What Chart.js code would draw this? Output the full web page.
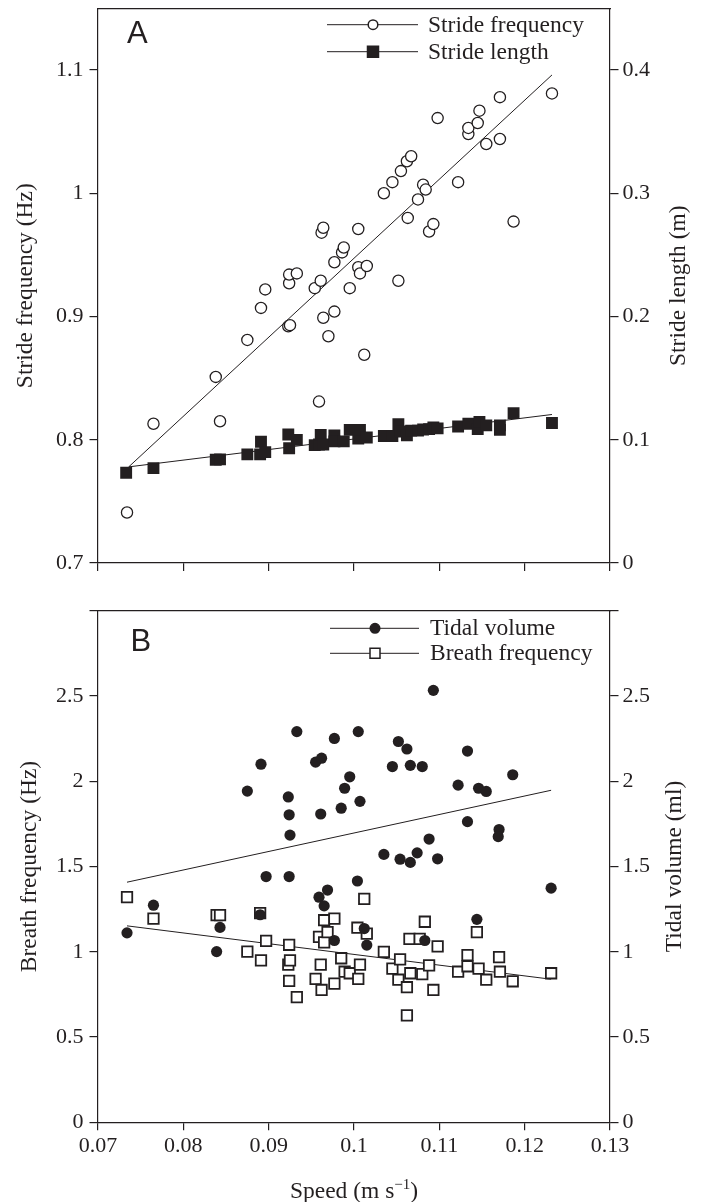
<!DOCTYPE html>
<html>
<head>
<meta charset="utf-8">
<script src="https://cdn.jsdelivr.net/npm/chart.js@4.4.1/dist/chart.umd.min.js"></script>
<style>
  body { margin: 0; background: #fff; }
  #wrapA { position: absolute; left: 0; top: 0; width: 704px; height: 600px; }
  #wrapB { position: absolute; left: 0; top: 600px; width: 704px; height: 602px; }
</style>
</head>
<body>
<div id="wrapA"><canvas id="chartA" width="704" height="600"></canvas></div>
<div id="wrapB"><canvas id="chartB" width="704" height="602"></canvas></div>
<script>
// ---- panel A: stride ----
const speedFreq = [0.0734, 0.0765, 0.0838, 0.0843, 0.0875, 0.0891, 0.0896, 0.0923, 0.0925, 0.0924,
  0.0924, 0.0933, 0.0954, 0.0959, 0.0961, 0.0962, 0.0964, 0.0964, 0.0970, 0.0977,
  0.0977, 0.0986, 0.0988, 0.0995, 0.1005, 0.1005, 0.1007, 0.1012, 0.1015, 0.1035,
  0.1045, 0.1052, 0.1055, 0.1062, 0.1067, 0.1063, 0.1075, 0.1081, 0.1084, 0.1088,
  0.1093, 0.1098, 0.1122, 0.1134, 0.1134, 0.1145, 0.1147, 0.1155, 0.1171, 0.1171,
  0.1187, 0.1232];
const strideFreq = [0.741, 0.813, 0.851, 0.815, 0.881, 0.907, 0.922, 0.892, 0.893, 0.927,
  0.934, 0.935, 0.923, 0.831, 0.929, 0.968, 0.972, 0.899, 0.884, 0.904,
  0.944, 0.952, 0.956, 0.923, 0.971, 0.940, 0.935, 0.869, 0.941, 1.000,
  1.009, 0.929, 1.018, 1.026, 1.030, 0.980, 0.995, 1.007, 1.003, 0.969,
  0.975, 1.061, 1.009, 1.048, 1.053, 1.057, 1.067, 1.040, 1.044, 1.078,
  0.977, 1.081];
const speedLen = [0.0733, 0.0765, 0.0838, 0.0843, 0.0875, 0.0891, 0.0890, 0.0896, 0.0923, 0.0924,
  0.0933, 0.0954, 0.0959, 0.0961, 0.0964, 0.0977, 0.0977, 0.0988, 0.0995, 0.1005,
  0.1007, 0.1015, 0.1035, 0.1045, 0.1052, 0.1055, 0.1062, 0.1067, 0.1075, 0.1081,
  0.1088, 0.1093, 0.1098, 0.1122, 0.1134, 0.1145, 0.1147, 0.1155, 0.1171, 0.1171,
  0.1187, 0.1232];
const strideLen = [0.0732, 0.0770, 0.0838, 0.0841, 0.0881, 0.0984, 0.0881, 0.0900, 0.1043, 0.0931,
  0.0999, 0.0956, 0.0962, 0.1040, 0.0962, 0.1036, 0.0987, 0.0987, 0.1080, 0.1009,
  0.1080, 0.1018, 0.1030, 0.1030, 0.1126, 0.1067, 0.1036, 0.1074, 0.1074, 0.1083,
  0.1086, 0.1099, 0.1092, 0.1108, 0.1130, 0.1086, 0.1145, 0.1117, 0.1117, 0.1080,
  0.1216, 0.1136];
// regression lines (end points)
const fitSpeedA = [0.0736, 0.1232];
const freqFit = [0.778, 1.096];
const lenFit = [0.0780, 0.1205];

// ---- panel B: breathing ----
const speedTidal = [0.0734, 0.0765, 0.0839, 0.0843, 0.0875, 0.0891, 0.0890, 0.0897, 0.0923, 0.0924,
  0.0925, 0.0924, 0.0933, 0.0955, 0.0962, 0.0961, 0.0959, 0.0965, 0.0969, 0.0977,
  0.0985, 0.0989, 0.0995, 0.0977, 0.1005, 0.1007, 0.1004, 0.1012, 0.1015, 0.1035,
  0.1045, 0.1052, 0.1054, 0.1062, 0.1066, 0.1066, 0.1074, 0.1080, 0.1083, 0.1088,
  0.1093, 0.1098, 0.1122, 0.1133, 0.1133, 0.1146, 0.1155, 0.1144, 0.1170, 0.1169,
  0.1186, 0.1231];
const tidalVol = [1.111, 1.273, 1.001, 1.143, 1.942, 2.100, 1.217, 1.441, 1.908, 1.803,
  1.684, 1.441, 2.291, 2.112, 2.135, 1.808, 1.320, 1.269, 1.362, 2.251,
  1.842, 1.959, 2.026, 1.066, 2.291, 1.882, 1.415, 1.136, 1.039, 1.571,
  2.086, 2.233, 1.543, 2.189, 2.093, 1.524, 1.580, 2.086, 1.066, 1.661,
  2.533, 1.545, 1.977, 2.177, 1.763, 1.959, 1.940, 1.190, 1.717, 1.675,
  2.038, 1.373];
const speedBreath = [0.0734, 0.0765, 0.0839, 0.0843, 0.0875, 0.0891, 0.0890, 0.0897, 0.0923, 0.0924,
  0.0925, 0.0924, 0.0933, 0.0955, 0.0959, 0.0961, 0.0962, 0.0965, 0.0965, 0.0969,
  0.0977, 0.0977, 0.0985, 0.0989, 0.0995, 0.1004, 0.1007, 0.1005, 0.1012, 0.1015,
  0.1035, 0.1045, 0.1054, 0.1052, 0.1062, 0.1062, 0.1065, 0.1066, 0.1077, 0.1080,
  0.1083, 0.1088, 0.1093, 0.1098, 0.1122, 0.1133, 0.1133, 0.1146, 0.1144, 0.1155,
  0.1170, 0.1171, 0.1186, 0.1231];
const breathFreq = [1.320, 1.194, 1.215, 1.215, 1.001, 0.950, 1.227, 1.064, 0.925, 1.041,
  0.950, 0.829, 0.734, 0.841, 1.087, 0.925, 0.776, 1.185, 1.055, 1.115,
  1.194, 0.813, 0.962, 0.883, 0.874, 1.141, 0.925, 0.841, 1.310, 1.106,
  0.999, 0.901, 0.955, 0.836, 0.792, 0.627, 1.076, 0.874, 1.076, 0.869,
  1.176, 0.920, 0.776, 1.032, 0.883, 0.980, 0.915, 0.901, 1.115, 0.836,
  0.969, 0.883, 0.827, 0.874];
const fitSpeedB = [0.0734, 0.1231];
const tidalFit = [1.408, 1.947];
const breathFit = [1.152, 0.839];

const INK = '#231f20';
const SERIF = "'Liberation Serif', 'Times New Roman', serif";
Chart.defaults.font.family = SERIF;
Chart.defaults.font.size = 22;
Chart.defaults.color = INK;

function pts(xs, ys) {
  return xs.map((x, i) => ({ x: x, y: ys[i] }));
}
function fmt(v) {
  return String(Number(v.toFixed(3)));
}

// legend, panel letter and right-hand titles
const panelDecor = {
  id: 'panelDecor',
  afterDraw(chart, args, o) {
    const ctx = chart.ctx;
    ctx.save();
    ctx.fillStyle = INK;
    ctx.strokeStyle = INK;
    // panel letter
    ctx.font = "31px 'Liberation Sans', Arial, sans-serif";
    ctx.textAlign = 'left';
    ctx.textBaseline = 'alphabetic';
    ctx.fillText(o.letter, o.letterX, o.letterY);
    // legend rows
    ctx.font = '23.5px ' + SERIF;
    ctx.textBaseline = 'middle';
    o.items.forEach(it => {
      ctx.lineWidth = 1;
      ctx.beginPath();
      ctx.moveTo(o.lineX1, it.y);
      ctx.lineTo(o.lineX2, it.y);
      ctx.stroke();
      ctx.beginPath();
      if (it.shape === 'circle') {
        ctx.arc(o.markX, it.y, 4.8, 0, Math.PI * 2);
      } else {
        ctx.rect(o.markX - it.size / 2, it.y - it.size / 2, it.size, it.size);
      }
      ctx.fillStyle = it.fill;
      ctx.fill();
      ctx.lineWidth = 1.5;
      ctx.stroke();
      ctx.fillStyle = INK;
      ctx.fillText(it.text, o.textX, it.y + 1);
    });
    // right axis title, reading bottom to top
    const area = chart.chartArea;
    ctx.save();
    ctx.translate(o.rightTitleX, (area.top + area.bottom) / 2);
    ctx.rotate(-Math.PI / 2);
    ctx.textAlign = 'center';
    ctx.fillText(o.rightTitle, 0, 0);
    ctx.restore();
    // x title with superscript
    if (o.xTitle) {
      const main = o.xTitle[0], sup = o.xTitle[1], tail = o.xTitle[2];
      ctx.textBaseline = 'alphabetic';
      ctx.textAlign = 'left';
      ctx.font = '23.5px ' + SERIF;
      const w1 = ctx.measureText(main).width;
      const w3 = ctx.measureText(tail).width;
      ctx.font = '15px ' + SERIF;
      const w2 = ctx.measureText(sup).width;
      let x = (area.left + area.right) / 2 - (w1 + w2 + w3) / 2;
      ctx.font = '23.5px ' + SERIF;
      ctx.fillText(main, x, o.xTitleY);
      x += w1;
      ctx.font = '15px ' + SERIF;
      ctx.fillText(sup, x, o.xTitleY - 9);
      x += w2;
      ctx.font = '23.5px ' + SERIF;
      ctx.fillText(tail, x, o.xTitleY);
    }
    ctx.restore();
  }
};

// fixed box sizes so the plot area sits where the reference has it
function fixH(height) {
  return s => { s.height = height; s.paddingLeft = 0; s.paddingRight = 0; };
}
function fixW(width) {
  return s => { s.width = width; s.paddingTop = 0; s.paddingBottom = 0; };
}

function axisX(showLabels, height) {
  return {
    type: 'linear', position: 'bottom', min: 0.07, max: 0.13,
    ticks: { stepSize: 0.01, padding: 3, callback: v => showLabels ? fmt(v) : '' },
    grid: { drawOnChartArea: false, tickLength: 8, color: INK, lineWidth: 1.2 },
    border: { color: INK, width: 1.2 },
    afterFit: fixH(height)
  };
}
function axisTop() {
  return {
    type: 'linear', axis: 'x', position: 'top', min: 0.07, max: 0.13,
    ticks: { display: false },
    grid: { display: false },
    border: { color: INK, width: 1.2 },
    afterFit: fixH(0)
  };
}
function axisY(pos, min, max, step, title, titlePad, width, labelMax) {
  const ax = {
    type: 'linear', position: pos, min: min, max: max,
    ticks: {
      stepSize: step, includeBounds: false, padding: pos === 'left' ? 6 : 4,
      callback: v => (v > labelMax + 1e-9 ? '' : fmt(v))
    },
    grid: { drawOnChartArea: false, tickLength: 8.5, color: INK, lineWidth: 1.2 },
    border: { color: INK, width: 1.2 },
    afterFit: fixW(width)
  };
  if (title) {
    ax.title = { display: true, text: title, font: { size: 23.5 }, padding: { top: titlePad, bottom: 0 } };
  }
  return ax;
}

new Chart(document.getElementById('chartA'), {
  type: 'scatter',
  data: {
    datasets: [
      {
        label: 'Stride frequency', data: pts(speedFreq, strideFreq), yAxisID: 'y', order: 1,
        pointStyle: 'circle', pointRadius: 5.6, pointBackgroundColor: '#fff',
        pointBorderColor: INK, pointBorderWidth: 1.3
      },
      {
        label: 'Stride length', data: pts(speedLen, strideLen), yAxisID: 'y2', order: 1,
        pointStyle: 'rect', pointRadius: 8.4, pointBackgroundColor: INK,
        pointBorderColor: INK, pointBorderWidth: 0
      },
      {
        type: 'line', label: 'freq fit', data: pts(fitSpeedA, freqFit), yAxisID: 'y', order: 2,
        borderColor: INK, borderWidth: 1, pointRadius: 0, fill: false
      },
      {
        type: 'line', label: 'length fit', data: pts(fitSpeedA, lenFit), yAxisID: 'y2', order: 2,
        borderColor: INK, borderWidth: 1, pointRadius: 0, fill: false
      }
    ]
  },
  options: {
    responsive: false,
    animation: false,
    layout: { padding: { top: 7, left: 0, right: 0, bottom: 0 } },
    scales: {
      x: axisX(false, 37),
      xTop: axisTop(),
      y: axisY('left', 0.7, 1.15, 0.1, 'Stride frequency (Hz)', 11.8, 98, 1.1),
      y2: axisY('right', 0, 0.45, 0.1, null, 0, 94, 0.4)
    },
    plugins: {
      legend: { display: false },
      tooltip: { enabled: false },
      panelDecor: {
        letter: 'A', letterX: 127, letterY: 43,
        lineX1: 327, lineX2: 418, markX: 373, textX: 428,
        items: [
          { text: 'Stride frequency', shape: 'circle', fill: '#fff', y: 24.7 },
          { text: 'Stride length', shape: 'rect', size: 11, fill: INK, y: 51.7 }
        ],
        rightTitle: 'Stride length (m)', rightTitleX: 679
      }
    }
  },
  plugins: [panelDecor]
});

new Chart(document.getElementById('chartB'), {
  type: 'scatter',
  data: {
    datasets: [
      {
        label: 'Tidal volume', data: pts(speedTidal, tidalVol), yAxisID: 'y2', order: 1,
        pointStyle: 'circle', pointRadius: 5.6, pointBackgroundColor: INK,
        pointBorderColor: INK, pointBorderWidth: 0
      },
      {
        label: 'Breath frequency', data: pts(speedBreath, breathFreq), yAxisID: 'y', order: 1,
        pointStyle: 'rect', pointRadius: 7.4, pointBackgroundColor: '#fff',
        pointBorderColor: INK, pointBorderWidth: 1.8
      },
      {
        type: 'line', label: 'tidal fit', data: pts(fitSpeedB, tidalFit), yAxisID: 'y2', order: 2,
        borderColor: INK, borderWidth: 1, pointRadius: 0, fill: false
      },
      {
        type: 'line', label: 'breath fit', data: pts(fitSpeedB, breathFit), yAxisID: 'y', order: 2,
        borderColor: INK, borderWidth: 1, pointRadius: 0, fill: false
      }
    ]
  },
  options: {
    responsive: false,
    animation: false,
    layout: { padding: { top: 10.7, left: 0, right: 0, bottom: 0 } },
    scales: {
      x: axisX(true, 79.7),
      xTop: axisTop(),
      y: axisY('left', 0, 3, 0.5, 'Breath frequency (Hz)', 16, 98, 2.5),
      y2: axisY('right', 0, 3, 0.5, null, 0, 94, 2.5)
    },
    plugins: {
      legend: { display: false },
      tooltip: { enabled: false },
      panelDecor: {
        letter: 'B', letterX: 130.5, letterY: 51,
        lineX1: 330, lineX2: 419, markX: 375, textX: 430,
        items: [
          { text: 'Tidal volume', shape: 'circle', fill: INK, y: 28.3 },
          { text: 'Breath frequency', shape: 'rect', size: 10, fill: '#fff', y: 53.3 }
        ],
        rightTitle: 'Tidal volume (ml)', rightTitleX: 675,
        xTitle: ['Speed (m s', '\u22121', ')'], xTitleY: 598
      }
    }
  },
  plugins: [panelDecor]
});
</script>
</body>
</html>
